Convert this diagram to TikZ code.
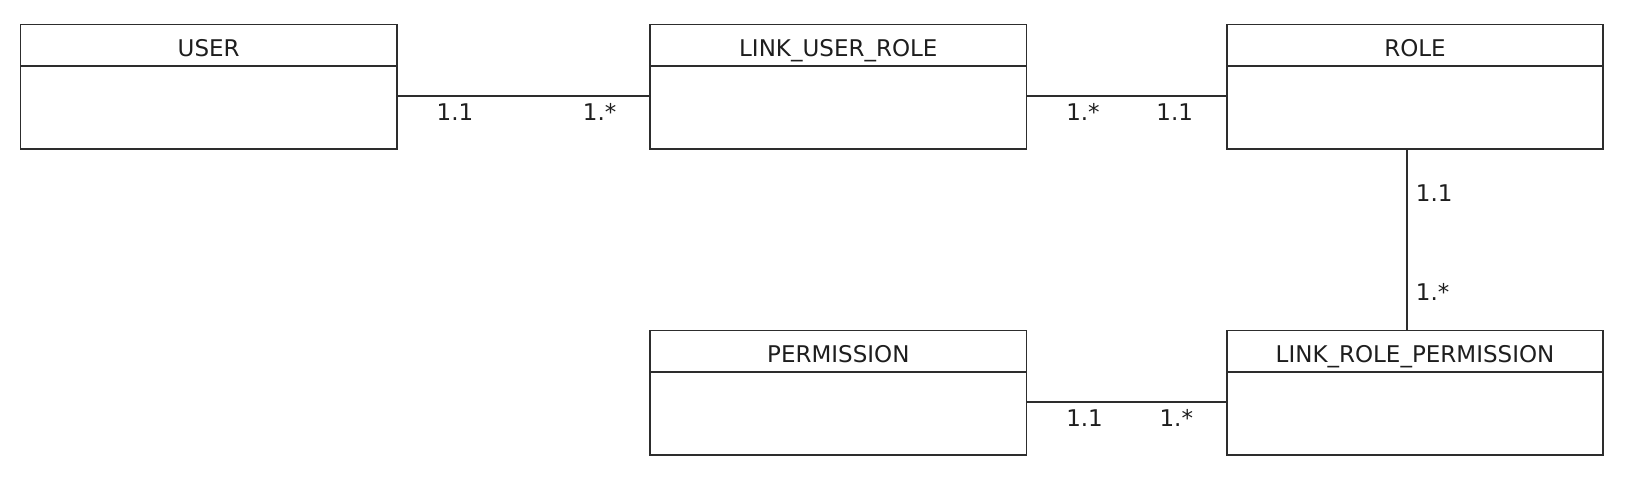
\documentclass[tikz,border=0pt]{standalone}
\usepackage{fontspec}
\setmainfont{DejaVu Sans}
\usetikzlibrary{positioning,calc}
\definecolor{umlline}{RGB}{45,45,45}
\definecolor{umltext}{RGB}{30,30,30}

\begin{document}
\begin{tikzpicture}[
  x=0.5pt, y=-0.5pt,
  every node/.style={font=\fontsize{11.5}{13}\selectfont, text=umltext},
  entity/.style={draw=umlline, line width=0.9pt, minimum width=188.25pt,
    minimum height=62.25pt, inner xsep=0pt, inner ysep=0pt,
    text height=16.1pt, text depth=46.15pt, align=center,
    path picture={\draw[umlline, line width=0.9pt]
      ([yshift=-20.75pt]path picture bounding box.north west) --
      ([yshift=-20.75pt]path picture bounding box.north east);}},
  assoc/.style={draw=umlline, line width=0.8pt},
  card/.style={inner sep=0pt},
]

\useasboundingbox (0,0) rectangle (1630,500);

%% Entities
\node[entity] (user) at (208.7,86.7)  {USER};
\node[entity] (lur)  at (838.3,86.7)  {LINK\_USER\_ROLE};
\node[entity] (role) at (1415,86.7)   {ROLE};
\node[entity] (perm) at (838.3,392.8) {PERMISSION};
\node[entity] (lrp)  at (1415,392.8)  {LINK\_ROLE\_PERMISSION};

%% USER -- LINK_USER_ROLE
\draw[assoc] ([yshift=-4.7pt]user.east)
    node[card, anchor=north west, xshift=19pt, yshift=-3.5pt] (c1) {1.1}
  -- ([yshift=-4.7pt]lur.west)
    node[card, anchor=north east, xshift=-16pt, yshift=-3.5pt] (c2) {1.*};

%% LINK_USER_ROLE -- ROLE
\draw[assoc] ([yshift=-4.7pt]lur.east)
    node[card, anchor=north west, xshift=19pt, yshift=-3.5pt] (c3) {1.*}
  -- ([yshift=-4.7pt]role.west)
    node[card, anchor=north east, xshift=-16pt, yshift=-3.5pt] (c4) {1.1};

%% ROLE -- LINK_ROLE_PERMISSION
\draw[assoc] ([xshift=-4.15pt]role.south)
    node[card, anchor=north west, xshift=4.2pt, yshift=-17pt] (c5) {1.1}
  -- ([xshift=-4.15pt]lrp.north)
    node[card, anchor=south west, xshift=4.2pt, yshift=14.3pt] (c6) {1.*};

%% PERMISSION -- LINK_ROLE_PERMISSION
\draw[assoc] ([yshift=-4.6pt]perm.east)
    node[card, anchor=north west, xshift=19pt, yshift=-3.5pt] (c7) {1.1}
  -- ([yshift=-4.6pt]lrp.west)
    node[card, anchor=north east, xshift=-16pt, yshift=-3.5pt] (c8) {1.*};

\end{tikzpicture}
\end{document}
